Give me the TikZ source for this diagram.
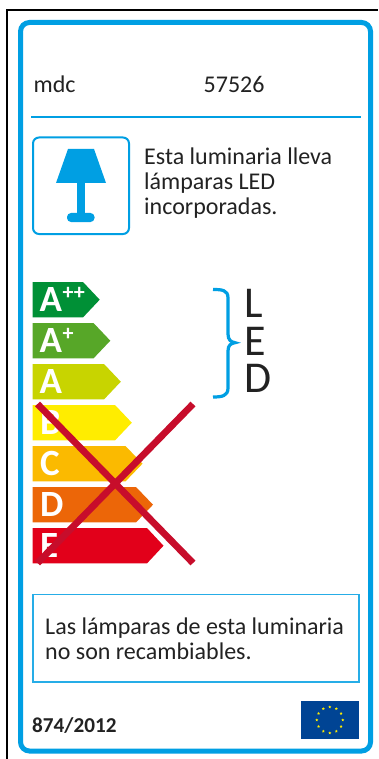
\documentclass[tikz,border=0pt]{standalone}
\usepackage{fontspec}
\setmainfont{Carlito}
\usetikzlibrary{shapes.geometric,calc}
\definecolor{lblue}{HTML}{009FE3}
\definecolor{txt}{HTML}{222222}
\definecolor{crossred}{HTML}{C70D2B}
\definecolor{cApp}{HTML}{009036}
\definecolor{cAp}{HTML}{57A728}
\definecolor{cA}{HTML}{C8D400}
\definecolor{cB}{HTML}{FFED00}
\definecolor{cC}{HTML}{FBBA00}
\definecolor{cD}{HTML}{EC6608}
\definecolor{cE}{HTML}{E2001A}
\definecolor{eublue}{HTML}{004494}
\definecolor{euyellow}{HTML}{FFED00}
\tikzset{
 x=1pt,y=-1pt,
 barletter/.style={text=white,font=\bfseries\fontsize{37}{37}\selectfont,inner sep=0pt,anchor=base west},
 barsup/.style={text=white,font=\bfseries\fontsize{22}{22}\selectfont,inner sep=0pt,anchor=base west},
 label/.style={text=txt,font=\fontsize{24}{24}\selectfont,inner sep=0pt,anchor=base west},
 bigletter/.style={text=txt,font=\fontsize{44}{44}\selectfont,inner sep=0pt,anchor=base west},
 xline/.style={crossred,line width=6.8pt},
}
\newcommand{\enbar}[4]{% top, bodyend, tip, colour
 \fill[#4] (32.5,#1) -- (#2,#1) -- (#3,#1+17.7) -- (#2,#1+35.4) -- (32.5,#1+35.4) -- cycle;
}
\begin{document}
\begin{tikzpicture}
\useasboundingbox (0,0) rectangle (378,759);
\fill[white] (0,0) rectangle (378,759);
\draw[black,line width=1.8pt] (7.3,759) -- (7.3,10) -- (378,10);
\draw[lblue,line width=5pt,rounded corners=9pt] (20.5,22.5) rectangle (370.5,751);
\node[label] (mdc) at (33.5,92.5) {mdc};
\node[label] (code) at (203.5,92.5) {57526};
\draw[lblue,line width=2pt] (31,117.5) -- (361,117.5);
\draw[lblue,line width=2pt,rounded corners=6pt] (33,137.5) rectangle (129,234);
\fill[lblue] (68,149) -- (94,149) -- (106,183) -- (56,183) -- cycle;
\fill[lblue] (77,183) rectangle (85,214);
\fill[lblue,rounded corners=4pt] (67,213) rectangle (94.5,222);
\node[label] (l1) at (144,164.5) {Esta luminaria lleva};
\node[label] (l2) at (144,189.5) {lámparas LED};
\node[label] (l3) at (144,214.5) {incorporadas.};
\enbar{282}{83}{99.7}{cApp}
\enbar{323}{93.5}{110.3}{cAp}
\enbar{364}{104}{120.8}{cA}
\enbar{405}{115}{131.8}{cB}
\enbar{446}{125.5}{142.5}{cC}
\enbar{487}{136}{153}{cD}
\enbar{528}{147}{163.5}{cE}
\node[barletter] (a2) at (39.5,311) {A};
\node[barsup] (a2s) at (62.5,299) {++};
\node[barletter] (a1) at (39.5,352) {A};
\node[barsup] (a1s) at (62.5,340) {+};
\node[barletter] (a0) at (39.5,393) {A};
\node[barletter] (b) at (40,434) {B};
\node[barletter] (c) at (40,475) {C};
\node[barletter] (d) at (40,516) {D};
\node[barletter] (e) at (40,557) {E};
\draw[xline] (37.5,404) -- (193,563);
\draw[xline] (37.5,563) -- (193,404);
\draw[lblue,line width=3.2pt] (213,289.5) .. controls (222,289.5) and (228,290) .. (228,298) -- (228,334) .. controls (228,340) and (231,342) .. (235,342.7) .. controls (231,343.4) and (228,345) .. (228,351) -- (228,388) .. controls (228,396) and (222,397) .. (213,397);
\node[bigletter] (L) at (244.5,317) {L};
\node[bigletter] (E) at (244.5,355) {E};
\node[bigletter] (D) at (244.5,392.5) {D};
\draw[lblue!85!white,line width=1.3pt] (33,594.5) rectangle (359,682);
\node[label] (n1) at (45,634.5) {Las lámparas de esta luminaria};
\node[label] (n2) at (45,659.5) {no son recambiables.};
\node[label,font=\bfseries\fontsize{21.2}{21.2}\selectfont] (reg) at (32,732.5) {874/2012};
\fill[eublue] (301,700.5) rectangle (358.5,739);
\foreach \a in {0,30,...,330}
 \node[star,star points=5,star point ratio=2.4,fill=euyellow,inner sep=0pt,minimum size=3.2pt] (s\a) at ($(329.8,720)+(\a:13)$) {};
\end{tikzpicture}
\end{document}
